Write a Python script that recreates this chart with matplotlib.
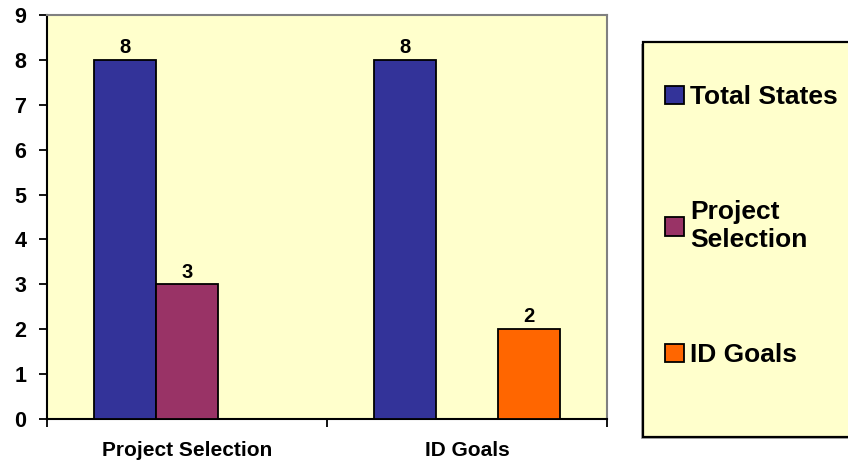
import numpy as np
import matplotlib
matplotlib.use('Agg')
import matplotlib.pyplot as plt
from matplotlib.patches import Rectangle

plt.rcParams['font.family'] = ['Liberation Sans', 'DejaVu Sans']
plt.rcParams['font.weight'] = 'bold'

# data
categories = ['Project Selection', 'ID Goals']
series_names = ['Total States', 'Project\nSelection', 'ID Goals']
total_states = [8, 8]
project_selection = [3, None]
id_goals = [None, 2]
colors = ['#333399', '#993366', '#FF6600']

bg = '#FFFFCC'
fig = plt.figure(figsize=(8.48, 4.66), dpi=100)
ax = fig.add_axes([47/848, 1 - 419/466, 560/848, 404/466])
ax.set_facecolor(bg)

width = 1 / 4.5
centers = np.arange(len(categories)) + 0.5
handles = []
for i, vals in enumerate([total_states, project_selection, id_goals]):
    v = np.array([np.nan if x is None else x for x in vals], dtype=float)
    bars = ax.bar(centers + (i - 1) * width, v, width, color=colors[i],
                  edgecolor='black', linewidth=1.3, zorder=3)
    labels = ['' if x is None else str(x) for x in vals]
    ax.bar_label(bars, labels=labels, padding=2, fontsize=14.5, fontweight='bold')
    handles.append(bars)

ax.set_xlim(0, len(categories))
ax.set_ylim(0, 9)
ax.set_yticks(range(10))
ax.set_xticks(range(len(categories) + 1))
ax.set_xticklabels([])
ax.set_xticks(centers, minor=True)
ax.set_xticklabels(categories, minor=True)
ax.tick_params(axis='x', which='minor', length=0, pad=16, labelsize=15)
ax.tick_params(axis='x', which='major', direction='out', length=6, width=1.3)
ax.tick_params(axis='y', direction='out', length=6, width=1.3, pad=9, labelsize=15.5)

for side in ['top', 'right']:
    ax.spines[side].set_color('#808080')
    ax.spines[side].set_linewidth(1.5)
for side in ['left', 'bottom']:
    ax.spines[side].set_color('black')
    ax.spines[side].set_linewidth(1.5)

# legend box with a faint shadow
fig.patches.append(Rectangle((641/848, 1 - 439/466), 0.3, 395/466,
                             transform=fig.transFigure, facecolor='#B0B0B0',
                             edgecolor='none', zorder=0))
fig.patches.append(Rectangle((643/848, 1 - 437/466), 0.3, 395/466,
                             transform=fig.transFigure, facecolor=bg,
                             edgecolor='black', linewidth=1.6, zorder=0))
fig.legend(handles, series_names, loc='upper left',
           bbox_to_anchor=(652/848, 1 - 72/466), frameon=False,
           fontsize=19, handlelength=0.7, handleheight=0.7,
           handletextpad=0.25, labelspacing=3.45, borderpad=0)

fig.savefig('out.png', dpi=100)
